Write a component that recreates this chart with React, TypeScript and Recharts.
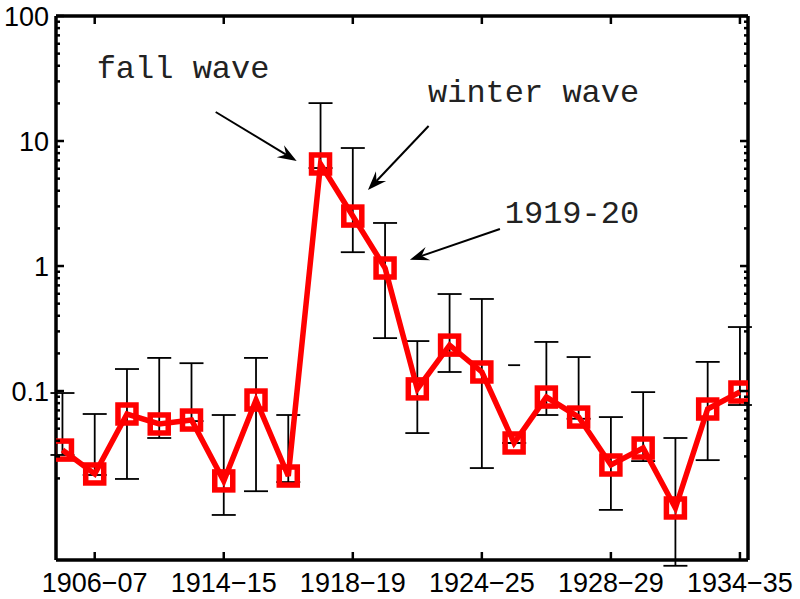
import { ComposedChart, Line, XAxis, YAxis, ErrorBar, ReferenceLine, ReferenceDot } from 'recharts'

// one value per season
const seasonIdx = [0, 1, 2, 3, 4, 5, 6, 7, 8, 9, 10, 11, 12, 13, 14, 15, 16, 17, 18, 19, 20, 21]
const rate = [0.0337, 0.0217, 0.0655, 0.0545, 0.0586, 0.0191, 0.0847, 0.0209, 6.55, 2.51, 0.964, 0.104,
  0.233, 0.142, 0.0384, 0.0895, 0.0619, 0.0256, 0.035, 0.0116, 0.0718, 0.0982]
const upper = [0.0964, 0.0655, 0.15, 0.184, 0.167, 0.0643, 0.184, 0.0643, 20.1, 8.79, 2.21, 0.251,
  0.597, 0.545, 0.161, 0.247, 0.187, 0.0619, 0.098, 0.0421, 0.171, 0.325]
// null = no lower end drawn (only the cap shows in the original)
const lower: (number | null)[] = [0.0308, 0.0213, 0.0198, 0.0421, 0.0575, 0.0102, 0.0158, 0.0187, 6.08, 1.29, 0.265, 0.0461,
  0.142, 0.0242, null, 0.0643, 0.06, 0.0112, 0.0275, 0.004, 0.028, 0.0773]

const xTickIdx = [1, 5, 9, 13, 17, 21]
const xTickLabels = ['1906\u221207', '1914\u221215', '1918\u221219', '1924\u221225', '1928\u221229', '1934\u221235']
const yMajor = [0.1, 1, 10, 100]
const yMinor = [0.02, 0.03, 0.04, 0.05, 0.06, 0.07, 0.08, 0.09, 0.2, 0.3, 0.4, 0.5, 0.6, 0.7, 0.8, 0.9,
  2, 3, 4, 5, 6, 7, 8, 9, 20, 30, 40, 50, 60, 70, 80, 90]

const noteText = ['fall wave', 'winter wave', '1919-20']
const noteAt = [{ x: 1.06, y: 31.9 }, { x: 11.33, y: 20.5 }, { x: 13.71, y: 2.21 }]
const arrowFrom = [{ x: 4.75, y: 17.06 }, { x: 11.35, y: 13.2 }, { x: 13.56, y: 1.98 }]
const arrowTo = [{ x: 7.26, y: 6.92 }, { x: 9.47, y: 4.06 }, { x: 10.77, y: 1.12 }]

const Y_MIN = 0.00445
const yTicks = [...yMinor, ...yMajor].sort((a, b) => a - b)

const data = seasonIdx.map((i) => {
  const lo = lower[i]
  return {
    idx: i,
    rate: rate[i],
    err: lo == null ? [0, 0] : [rate[i] - lo, upper[i] - rate[i]],
    cap: lo == null ? upper[i] : null,
  }
})

const axisFont = '"Liberation Sans", Arial, Helvetica, sans-serif'
const axisLine = { stroke: '#000', strokeWidth: 3.5 }
const labelStyle = { fontSize: '27px', fontFamily: axisFont, fill: '#000' }

function LeftTick(p: any) {
  const v = p.payload.value
  const major = yMajor.includes(v)
  return (
    <g>
      <line x1={p.x} x2={p.x + (major ? 8 : 4)} y1={p.y} y2={p.y} stroke="#000" strokeWidth={2.5} />
      {major && (
        <text x={p.x - 7} y={p.y} dy="0.36em" textAnchor="end" style={labelStyle}>
          {String(v)}
        </text>
      )}
    </g>
  )
}

function RightTick(p: any) {
  const major = yMajor.includes(p.payload.value)
  return <line x1={p.x} x2={p.x - (major ? 8 : 4)} y1={p.y} y2={p.y} stroke="#000" strokeWidth={2.5} />
}

function BottomTick(p: any) {
  const k = xTickIdx.indexOf(p.payload.value)
  return (
    <g>
      <line x1={p.x} x2={p.x} y1={p.y} y2={p.y - 8} stroke="#000" strokeWidth={2.5} />
      <text x={p.x} y={p.y + 32} textAnchor="middle" style={labelStyle}>
        {xTickLabels[k]}
      </text>
    </g>
  )
}

function TopTick(p: any) {
  return <line x1={p.x} x2={p.x} y1={p.y} y2={p.y + 8} stroke="#000" strokeWidth={2.5} />
}

const renderSquare = (p: any) => {
  if (p.cx == null || p.cy == null) return <g key={p.index} />
  return (
    <rect key={p.index} x={p.cx - 9} y={p.cy - 9} width={18} height={18} fill="none" stroke="#ff0000" strokeWidth={5.5} />
  )
}

const renderCap = (p: any) => {
  if (p.cx == null || p.cy == null || p.value == null) return <g key={p.index} />
  return <line key={p.index} x1={p.cx - 6} x2={p.cx + 6} y1={p.cy} y2={p.cy} stroke="#000" strokeWidth={1.8} />
}

const Arrow = (p: any) => {
  const { x1, y1, x2, y2 } = p
  if ([x1, y1, x2, y2].some((v) => v == null || isNaN(v))) return <g />
  const ang = Math.atan2(y2 - y1, x2 - x1)
  const L = 19
  const W = 7
  const bx = x2 - L * Math.cos(ang)
  const by = y2 - L * Math.sin(ang)
  const nx = x2 - L * 0.65 * Math.cos(ang)
  const ny = y2 - L * 0.65 * Math.sin(ang)
  const px = -Math.sin(ang) * W
  const py = Math.cos(ang) * W
  return (
    <g>
      <line x1={x1} y1={y1} x2={nx} y2={ny} stroke="#000" strokeWidth={2} />
      <path d={`M${x2},${y2} L${bx + px},${by + py} L${nx},${ny} L${bx - px},${by - py} Z`} fill="#000" />
    </g>
  )
}

export default function App() {
  return (
    <div style={{ position: 'absolute', left: 0, top: 0, background: '#fff' }}>
      <ComposedChart width={800} height={599} data={data} margin={{ top: 15, right: 51, bottom: 0, left: 0 }}>
        <XAxis
          dataKey="idx" type="number" domain={[-0.2, 21.25]} allowDataOverflow
          ticks={xTickIdx} interval={0} height={39} tickSize={0} tickMargin={0}
          tickLine={false} axisLine={axisLine} tick={BottomTick}
        />
        <XAxis
          xAxisId="top" orientation="top" dataKey="idx" type="number" domain={[-0.2, 21.25]} allowDataOverflow
          ticks={xTickIdx} interval={0} height={1} tickSize={0} tickMargin={0}
          tickLine={false} axisLine={axisLine} tick={TopTick}
        />
        <YAxis
          scale="log" domain={[Y_MIN, 100]} allowDataOverflow ticks={yTicks} interval={0}
          width={56} tickSize={0} tickMargin={0} tickLine={false} axisLine={axisLine} tick={LeftTick}
        />
        <YAxis
          yAxisId="right" orientation="right" scale="log" domain={[Y_MIN, 100]} allowDataOverflow ticks={yTicks}
          interval={0} width={1} tickSize={0} tickMargin={0} tickLine={false} axisLine={axisLine} tick={RightTick}
        />
        {noteText.map((t, i) => (
          <ReferenceLine
            key={'a' + i}
            segment={[arrowFrom[i], arrowTo[i]]}
            ifOverflow="visible"
            shape={Arrow}
          />
        ))}
        {noteText.map((t, i) => (
          <ReferenceDot
            key={'t' + i}
            x={noteAt[i].x}
            y={noteAt[i].y}
            ifOverflow="visible"
            shape={(p: any) => (
              <text x={p.cx} y={p.cy} fontSize={32} fontFamily='"Liberation Mono", "Courier New", monospace' fill="#222">
                {t}
              </text>
            )}
          />
        ))}
        <Line dataKey="cap" stroke="none" dot={renderCap} activeDot={false} isAnimationActive={false} legendType="none" />
        <Line
          dataKey="rate" stroke="#ff0000" strokeWidth={5.5} strokeLinejoin="miter" dot={renderSquare}
          activeDot={false} isAnimationActive={false}
        >
          <ErrorBar dataKey="err" direction="y" width={12} stroke="#000" strokeWidth={1.8} />
        </Line>
      </ComposedChart>
    </div>
  )
}
